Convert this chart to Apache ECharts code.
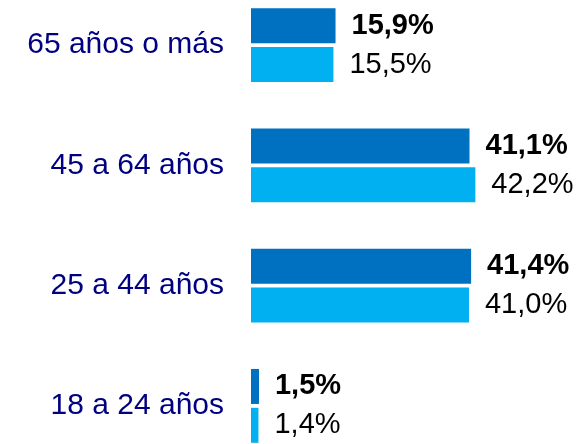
<!DOCTYPE html>
<html>
<head>
<meta charset="utf-8">
<script src="https://cdn.jsdelivr.net/npm/echarts@6/dist/echarts.min.js"></script>
<style>
  html, body { margin: 0; padding: 0; background: #fff; }
  #chart { width: 581px; height: 444px; }
</style>
</head>
<body>
<div id="chart"></div>
<script>
// categories top to bottom
const categories = ['65 años o más', '45 a 64 años', '25 a 44 años', '18 a 24 años']
const darkValues = [15.9, 41.1, 41.4, 1.5]
const lightValues = [15.5, 42.2, 41.0, 1.4]

const font = '"Liberation Sans", Arial, sans-serif'
const fmt = p => p.value.toFixed(1).replace('.', ',') + '%'

const chart = echarts.init(document.getElementById('chart'))
chart.setOption({
  animation: false,
  grid: {
    left: 251, right: 11, top: -15, bottom: -22,
    containLabel: false, outerBoundsMode: 'none'
  },
  xAxis: { type: 'value', min: 0, max: 60, show: false },
  yAxis: {
    type: 'category',
    inverse: true,
    data: categories,
    axisLine: { show: false },
    axisTick: { show: false },
    axisLabel: { color: '#000080', fontSize: 30, fontFamily: font, margin: 27 }
  },
  series: [
    {
      type: 'bar',
      data: darkValues,
      barWidth: 35,
      barGap: '11%',
      itemStyle: { color: '#0070C0' },
      label: {
        show: true, position: 'right', distance: 16, formatter: fmt,
        color: '#000', fontSize: 29, fontWeight: 'bold', fontFamily: font
      }
    },
    {
      type: 'bar',
      data: lightValues,
      barWidth: 35,
      itemStyle: { color: '#00B0F0' },
      label: {
        show: true, position: 'right', distance: 16, formatter: fmt,
        color: '#000', fontSize: 29, fontFamily: font
      }
    }
  ]
})
</script>
</body>
</html>
